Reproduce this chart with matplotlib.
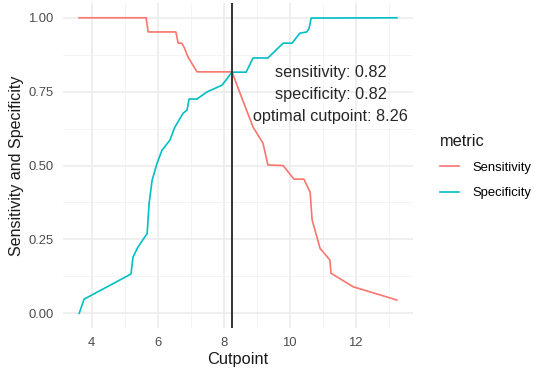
import numpy as np
import matplotlib
matplotlib.use("Agg")
import matplotlib.pyplot as plt

plt.rcParams['font.family'] = ['Liberation Sans', 'DejaVu Sans']

# cutpoint curves
sens_x = [3.62, 5.65, 5.71, 6.55, 6.62, 6.73, 6.80, 6.92, 7.19, 8.25, 8.58, 8.89,
          9.19, 9.34, 9.80, 10.13, 10.43, 10.62, 10.68, 10.92, 11.22, 11.25, 11.92, 13.25]
sens_y = [1.00, 1.00, 0.952, 0.952, 0.914, 0.914, 0.90, 0.867, 0.817, 0.817, 0.72, 0.63,
          0.576, 0.502, 0.50, 0.454, 0.454, 0.41, 0.316, 0.22, 0.18, 0.136, 0.09, 0.045]

spec_x = [3.62, 3.77, 5.19, 5.25, 5.40, 5.68, 5.74, 5.83, 5.98, 6.13, 6.37, 6.52, 6.77,
          6.89, 6.95, 7.19, 7.49, 7.95, 8.25, 8.68, 8.89, 9.34, 9.80, 10.07, 10.31,
          10.52, 10.59, 10.65, 13.25]
spec_y = [0.0, 0.048, 0.133, 0.19, 0.224, 0.27, 0.373, 0.45, 0.508, 0.552, 0.586, 0.63,
          0.677, 0.688, 0.725, 0.725, 0.749, 0.772, 0.816, 0.816, 0.864, 0.864, 0.914,
          0.914, 0.948, 0.952, 0.965, 0.999, 1.0]

optimal_cutpoint = 8.26
sensitivity = 0.82
specificity = 0.82

W, H = 538, 377
fig = plt.figure(figsize=(W / 100, H / 100), dpi=100)

# panel placed in pixel units
left, right, top, bottom = 63.3, 412.8, 3.0, 328.1
ax = fig.add_axes([left / W, 1 - bottom / H, (right - left) / W, (bottom - top) / H])

xs = sens_x + spec_x
xmin, xmax = min(xs), max(xs)
pad = 0.05 * (xmax - xmin)
ax.set_xlim(xmin - pad, xmax + pad)
ax.set_ylim(-0.05, 1.05)

ax.set_xticks([4, 6, 8, 10, 12])
ax.set_xticks([5, 7, 9, 11, 13], minor=True)
ax.set_yticks([0, 0.25, 0.5, 0.75, 1.0])
ax.set_yticks([0.125, 0.375, 0.625, 0.875], minor=True)
ax.set_yticklabels(['0.00', '0.25', '0.50', '0.75', '1.00'])

ax.grid(which='major', color='#EBEBEB', lw=1.1)
ax.grid(which='minor', color='#F2F2F2', lw=0.6)
ax.set_axisbelow(True)
for s in ax.spines.values():
    s.set_visible(False)
ax.tick_params(which='both', length=0, labelsize=9.4, labelcolor='#4D4D4D')
ax.tick_params(axis='y', pad=7)
ax.tick_params(axis='x', pad=6.5)

l1, = ax.plot(sens_x, sens_y, color='#F8766D', lw=1.2, label='Sensitivity')
l2, = ax.plot(spec_x, spec_y, color='#00BFC4', lw=1.2, label='Specificity')
ax.axvline(optimal_cutpoint, color='#333333', lw=1.4)

tx = 11.25
ax.text(tx, 0.815, f'sensitivity: {sensitivity:.2f}', ha='center', va='center',
        fontsize=11.7, color='#262626')
ax.text(tx, 0.742, f'specificity: {specificity:.2f}', ha='center', va='center',
        fontsize=11.7, color='#262626')
ax.text(tx, 0.665, f'optimal cutpoint: {optimal_cutpoint:.2f}', ha='center', va='center',
        fontsize=11.7, color='#262626')

ax.set_xlabel('Cutpoint', fontsize=11.8, color='#1A1A1A', labelpad=2)
ax.set_ylabel('Sensitivity and Specificity', fontsize=11.5, color='#1A1A1A', labelpad=3)

leg = fig.legend(handles=[l1, l2], title='metric', loc='upper left',
                 bbox_to_anchor=(428 / W, 1 - 122 / H), frameon=False,
                 fontsize=9.4, title_fontsize=11.8, handlelength=1.5,
                 handletextpad=1.0, labelspacing=1.0, alignment='left')
leg.get_title().set_color('#1A1A1A')

fig.savefig('out.png', dpi=100)
